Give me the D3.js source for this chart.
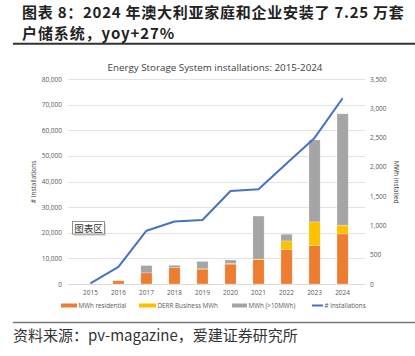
<!DOCTYPE html>
<html><head><meta charset="utf-8">
<script src="https://cdn.jsdelivr.net/npm/d3@7"></script>
<style>
html,body{margin:0;padding:0;background:#fff;}
svg{display:block;}
</style></head>
<body>
<svg id="c" width="415" height="356"></svg>
<script>
const years = ["2015","2016","2017","2018","2019","2020","2021","2022","2023","2024"];
const mwhResidential = [0, 55, 190, 280, 255, 340, 415, 585, 655, 855];
const derrBusiness   = [0, 0, 0, 0, 5, 10, 10, 150, 405, 150];
const mwhLarge       = [0, 0, 125, 40, 125, 60, 735, 115, 1400, 1900];
const installations  = [250, 6700, 20800, 24400, 25000, 36300, 37000, 47000, 57000, 72500];
const leftTicks = [0,10000,20000,30000,40000,50000,60000,70000,80000];
const rightTicks = [0,500,1000,1500,2000,2500,3000,3500];
const seriesNames = ["MWh residential","DERR Business MWh","MWh (>10MWh)","# Installations"];
const colors = ["#ED7D31","#FFC000","#A5A5A5","#4472C4"];

const svg = d3.select("#c");
const L = 68, R = 365, T = 79, B = 284;
const x = d3.scaleBand().domain(years).range([L,R]).padding(0.6);
const yL = d3.scaleLinear().domain([0,80000]).range([B,T]);
const yR = d3.scaleLinear().domain([0,3500]).range([B,T]);
const cjk = "'Noto Sans CJK SC', sans-serif";
const lat = "'Open Sans', sans-serif";

// Title
svg.append("text").attr("x",22).attr("y",17.6).attr("font-family",cjk).attr("font-weight","bold")
  .attr("font-size",15).attr("letter-spacing",0.75).attr("fill","#222").text("图表 8：2024 年澳大利亚家庭和企业安装了 7.25 万套");
svg.append("text").attr("x",22).attr("y",39.4).attr("font-family",cjk).attr("font-weight","bold")
  .attr("font-size",15).attr("letter-spacing",0.9).attr("fill","#222").text("户储系统，yoy+27%");
svg.append("line").attr("x1",13).attr("x2",415).attr("y1",43.8).attr("y2",43.8).attr("stroke","#333").attr("stroke-width",2);

// Chart title
svg.append("text").attr("x",215).attr("y",70.5).attr("text-anchor","middle").attr("font-family",lat)
  .attr("font-size",9.8).attr("fill","#404040").text("Energy Storage System installations: 2015-2024");

// Grid
svg.append("g").selectAll("line").data(leftTicks.slice(1)).join("line")
  .attr("x1",L).attr("x2",R).attr("y1",d=>Math.round(yL(d))+0.5).attr("y2",d=>Math.round(yL(d))+0.5)
  .attr("stroke","#e3e3e3").attr("stroke-width",1);
svg.append("line").attr("x1",L).attr("x2",R).attr("y1",B+0.5).attr("y2",B+0.5).attr("stroke","#d9d9d9");

// Axes
const fmt = d3.format(",");
const axL = svg.append("g").attr("transform",`translate(${L-4},0)`)
  .call(d3.axisLeft(yL).tickValues(leftTicks).tickFormat(fmt).tickSize(0).tickPadding(2));
const axR = svg.append("g").attr("transform",`translate(${R+3},0)`)
  .call(d3.axisRight(yR).tickValues(rightTicks).tickFormat(fmt).tickSize(0).tickPadding(2));
const axX = svg.append("g").attr("transform",`translate(0,${B+4})`)
  .call(d3.axisBottom(x).tickSize(0).tickPadding(2));
[axL,axR,axX].forEach(a=>{
  a.select(".domain").remove();
  a.selectAll("text").attr("font-family",lat).attr("font-size",6.5).attr("fill","#595959");
});

// Axis titles
svg.append("text").attr("transform","translate(36,182) rotate(-90)").attr("text-anchor","middle")
  .attr("font-family",lat).attr("font-size",6.5).attr("fill","#404040").text("# Installations");
svg.append("text").attr("transform","translate(394,182) rotate(90)").attr("text-anchor","middle")
  .attr("font-family",lat).attr("font-size",6.5).attr("fill","#404040").text("MWh installed");

// Stacked bars
const rows = years.map((y,i)=>({year:y, a:mwhResidential[i], b:derrBusiness[i], c:mwhLarge[i]}));
const stack = d3.stack().keys(["a","b","c"])(rows);
svg.append("g").selectAll("g").data(stack).join("g").attr("fill",(d,i)=>colors[i])
  .selectAll("rect").data(d=>d).join("rect")
  .attr("x",d=>x(d.data.year)).attr("width",x.bandwidth())
  .attr("y",d=>yR(d[1])).attr("height",d=>Math.max(0,yR(d[0])-yR(d[1])))
  .attr("stroke","#fff").attr("stroke-opacity",0.5).attr("stroke-width",0.5);

// Line
const cx = d=>x(d)+x.bandwidth()/2;
svg.append("path").datum(installations)
  .attr("d",d3.line().x((d,i)=>cx(years[i])).y(d=>yL(d)))
  .attr("fill","none").attr("stroke",colors[3]).attr("stroke-width",2).attr("stroke-linejoin","round");

// Legend
const legX = [61,139,232,312];
const legW = [16,17,15,11];
seriesNames.forEach((n,i)=>{
  svg.append("line").attr("x1",legX[i]).attr("x2",legX[i]+legW[i]).attr("y1",305.5).attr("y2",305.5)
    .attr("stroke",colors[i]).attr("stroke-width",i===3?2:4);
  svg.append("text").attr("x",legX[i]+legW[i]+1.5).attr("y",307.8).attr("font-family",lat)
    .attr("font-size",6.3).attr("fill","#595959").text(n);
});

// Excel tooltip "图表区"
const tip = svg.append("g");
tip.append("rect").attr("x",74).attr("y",223.5).attr("width",32).attr("height",12.5).attr("fill","#bbb").attr("opacity",0.5);
tip.append("rect").attr("x",72.5).attr("y",221.5).attr("width",32).attr("height",12.5).attr("fill","#fff").attr("stroke","#777").attr("stroke-width",0.8);
tip.append("text").attr("x",88.5).attr("y",231.8).attr("text-anchor","middle").attr("font-family",cjk)
  .attr("font-size",9.5).attr("fill","#333").text("图表区");

// Footer
svg.append("line").attr("x1",13).attr("x2",415).attr("y1",322.5).attr("y2",322.5).attr("stroke","#777").attr("stroke-width",1.5);
svg.append("text").attr("x",13).attr("y",340.5).attr("font-family",cjk).attr("font-size",15)
  .attr("fill","#333").text("资料来源：pv-magazine，爱建证券研究所");
</script>
</body></html>
